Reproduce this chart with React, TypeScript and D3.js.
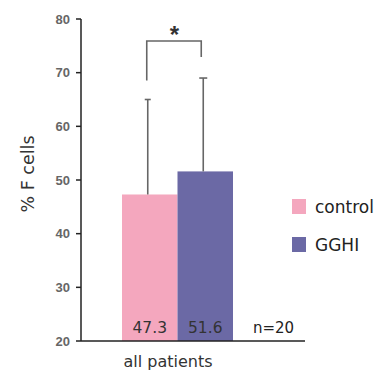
import React from "react";
import * as d3 from "d3";

const groups = ["control", "GGHI"];
const means = [47.3, 51.6];
const upperErr = [65, 69];
const colors = ["#f4a7be", "#6b69a5"];
const yTicks = [20, 30, 40, 50, 60, 70, 80];
const category = "all patients";
const nLabel = "n=20";

export default function App() {
  const W = 375, H = 375;
  const y = d3.scaleLinear().domain([20, 80]).range([341, 19]);
  const x = d3.scaleBand<string>().domain(groups).range([122, 233]).padding(0);
  const axisX = 81;
  const font = "Liberation Sans, Arial, sans-serif";
  const wide = "DejaVu Sans, sans-serif";
  const capW = [6, 8];
  const cx = (g: string) => (x(g) as number) + x.bandwidth() / 2;
  const bracketY = 41;
  return (
    <svg width={W} height={H} style={{ position: "absolute", left: 0, top: 0, background: "#fff" }} fontFamily={font}>
      {groups.map((g, i) => (
        <rect key={g} x={x(g)} y={y(means[i])} width={x.bandwidth()} height={y(20) - y(means[i])} fill={colors[i]} />
      ))}
      {groups.map((g, i) => (
        <g key={"e" + g} stroke="#666" strokeWidth={1.6}>
          <line x1={cx(g) - 2} x2={cx(g) - 2} y1={y(means[i])} y2={y(upperErr[i])} />
          <line x1={cx(g) - 2 - capW[i] / 2} x2={cx(g) - 2 + capW[i] / 2} y1={y(upperErr[i])} y2={y(upperErr[i])} />
        </g>
      ))}
      <path
        d={`M${cx(groups[0]) - 3},${y(upperErr[0]) - 19} V${bracketY} H${cx(groups[1]) - 4} V${y(upperErr[1]) - 21}`}
        fill="none" stroke="#666" strokeWidth={1.6}
      />
      <text x={(cx(groups[0]) + cx(groups[1])) / 2 - 3} y={bracketY + 2} textAnchor="middle" fontSize={24} fontWeight="bold" fill="#333">*</text>
      {groups.map((g, i) => (
        <text key={"v" + g} x={cx(g)} y={333} textAnchor="middle" fontSize={15.5} fontFamily={wide} fill="#333">{means[i]}</text>
      ))}
      <text x={253} y={333} fontSize={15} fontFamily={wide} fill="#222">{nLabel}</text>
      <line x1={axisX} x2={305} y1={341} y2={341} stroke="#222" strokeWidth={1.5} />
      <line x1={axisX} x2={axisX} y1={y(80)} y2={341} stroke="#222" strokeWidth={1.5} />
      {yTicks.map((t) => (
        <g key={t}>
          <line x1={axisX - 5} x2={axisX} y1={y(t)} y2={y(t)} stroke="#222" strokeWidth={1.5} />
          <text x={axisX - 11} y={y(t)} dy="0.35em" textAnchor="end" fontSize={13} fontWeight="bold" fill="#666">{t}</text>
        </g>
      ))}
      <text x={168} y={367} textAnchor="middle" fontSize={16} fontFamily={wide} fill="#333">{category}</text>
      <text transform={`translate(34,174) rotate(-90)`} textAnchor="middle" fontSize={17.5} fontFamily={wide} fill="#333">% F cells</text>
      {groups.map((g, i) => (
        <g key={"l" + g}>
          <rect x={292} y={199 + i * 38} width={14} height={15} fill={colors[i]} />
          <text x={315} y={213 + i * 38} fontSize={17} fontFamily={wide} fill="#222">{g}</text>
        </g>
      ))}
    </svg>
  );
}
